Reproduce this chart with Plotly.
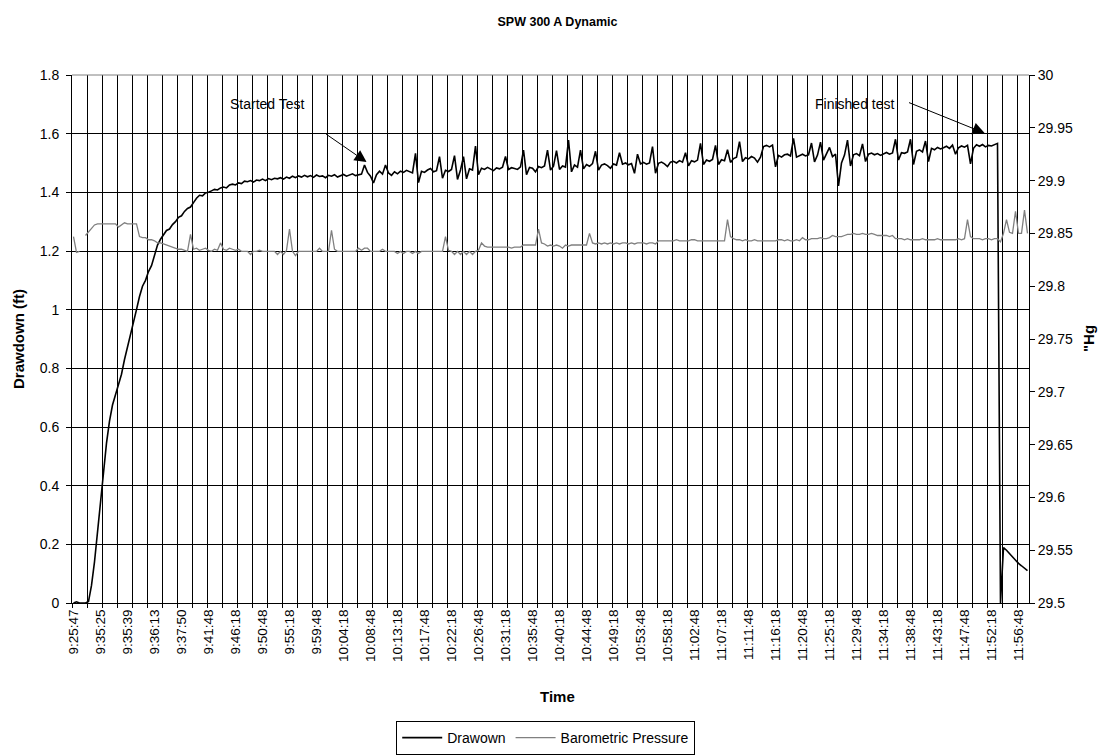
import plotly.graph_objects as go

# ---- tick labels (every 9th sample) ----
tick_labels = ["9:25:47", "9:35:25", "9:35:39", "9:36:13", "9:37:50", "9:41:48",
               "9:46:18", "9:50:48", "9:55:18", "9:59:48", "10:04:18", "10:08:48",
               "10:13:18", "10:17:48", "10:22:18", "10:26:48", "10:31:18", "10:35:48",
               "10:40:18", "10:44:48", "10:49:18", "10:53:48", "10:58:18", "11:02:48",
               "11:07:18", "11:11:48", "11:16:18", "11:20:48", "11:25:18", "11:29:48",
               "11:34:18", "11:38:48", "11:43:18", "11:47:48", "11:52:18", "11:56:48"]
label_step = 9

# ---- Drawdown (ft), one value per sample ----
drawdown = [
    0.0, 0.004, 0.0, 0.0, 0.0, 0.005, 0.06, 0.14, 0.24, 0.35,
    0.44, 0.545, 0.62, 0.675, 0.71, 0.745, 0.78, 0.83, 0.87, 0.91,
    0.955, 1.0, 1.045, 1.08, 1.10, 1.13, 1.15, 1.19, 1.22, 1.24,
    1.255, 1.27, 1.275, 1.29, 1.30, 1.315, 1.32, 1.335, 1.345, 1.35,
    1.365, 1.38, 1.39, 1.388, 1.398, 1.40, 1.405, 1.41, 1.408, 1.415,
    1.418, 1.415, 1.425, 1.428, 1.425, 1.432, 1.43, 1.438, 1.436, 1.44,
    1.435, 1.442, 1.44, 1.445, 1.44, 1.447, 1.443, 1.448, 1.446, 1.45,
    1.445, 1.452, 1.448, 1.455, 1.450, 1.456, 1.452, 1.458, 1.453, 1.457,
    1.451, 1.459, 1.454, 1.456, 1.450, 1.458, 1.455, 1.460, 1.452, 1.457,
    1.461, 1.455, 1.459, 1.463, 1.457, 1.460, 1.462, 1.493, 1.468, 1.455,
    1.432, 1.460, 1.472, 1.462, 1.493, 1.466, 1.458, 1.470, 1.463, 1.472,
    1.468, 1.475, 1.470, 1.466, 1.533, 1.433, 1.472, 1.468, 1.476, 1.481,
    1.470, 1.474, 1.522, 1.448, 1.475, 1.471, 1.478, 1.525, 1.444, 1.476,
    1.522, 1.446, 1.480, 1.476, 1.558, 1.460, 1.482, 1.478, 1.485, 1.479,
    1.474, 1.483, 1.480, 1.486, 1.522, 1.478, 1.484, 1.481, 1.478, 1.487,
    1.544, 1.460, 1.485, 1.482, 1.470, 1.488, 1.484, 1.490, 1.544, 1.476,
    1.489, 1.542, 1.478, 1.490, 1.486, 1.578, 1.470, 1.493, 1.486, 1.544,
    1.480, 1.495, 1.489, 1.498, 1.540, 1.476, 1.493, 1.497, 1.491, 1.482,
    1.497, 1.493, 1.535, 1.496, 1.500, 1.494, 1.498, 1.465, 1.530, 1.497,
    1.502, 1.496, 1.500, 1.556, 1.465, 1.499, 1.503, 1.497, 1.488, 1.503,
    1.506, 1.500, 1.508, 1.503, 1.535, 1.490, 1.508, 1.504, 1.510, 1.567,
    1.495, 1.510, 1.506, 1.512, 1.560, 1.495, 1.511, 1.508, 1.545, 1.502,
    1.515, 1.520, 1.573, 1.505, 1.518, 1.514, 1.522, 1.517, 1.503, 1.520,
    1.556, 1.560, 1.555, 1.561, 1.487, 1.526, 1.520, 1.528, 1.530, 1.524,
    1.584, 1.520, 1.526, 1.530, 1.524, 1.528, 1.568, 1.504, 1.527, 1.571,
    1.510, 1.530, 1.553, 1.522, 1.530, 1.422, 1.500, 1.527, 1.578, 1.490,
    1.528, 1.532, 1.525, 1.565, 1.505, 1.530, 1.534, 1.528, 1.532, 1.526,
    1.531, 1.536, 1.530, 1.534, 1.581, 1.510, 1.535, 1.533, 1.538, 1.581,
    1.495, 1.540, 1.545, 1.538, 1.575, 1.505, 1.550, 1.545, 1.553, 1.548,
    1.552, 1.557, 1.550, 1.561, 1.530, 1.552, 1.558, 1.554, 1.560, 1.497,
    1.550, 1.562, 1.557, 1.563, 1.555, 1.560, 1.558, 1.563, 1.567, 0.0,
    0.189, 0.18, 0.168, 0.156, 0.145, 0.135, 0.127, 0.118, 0.11,
]

# ---- Barometric pressure ("Hg), one value per sample ----
pressure = [
    29.847, 29.832, 29.833, None, 29.848, 29.851, 29.854, 29.858, 29.859, 29.859,
    29.859, 29.859, 29.859, 29.859, 29.859, 29.856, 29.858, 29.860, 29.859, 29.859,
    29.859, 29.859, 29.847, 29.846, 29.846, 29.844, 29.844, 29.843, 29.841, 29.841,
    29.840, 29.839, 29.838, 29.837, 29.836, 29.835, 29.835, 29.834, 29.833, 29.849,
    29.835, 29.836, 29.834, 29.835, 29.836, 29.834, 29.833, 29.835, 29.834, 29.841,
    29.835, 29.834, 29.836, 29.835, 29.834, 29.835, 29.833, 29.833, 29.833, 29.830,
    29.833, 29.833, 29.834, 29.833, 29.833, 29.833, 29.833, 29.833, 29.830, 29.833,
    29.830, 29.834, 29.854, 29.833, 29.829, 29.833, 29.833, 29.833, 29.833, 29.833,
    29.833, 29.833, 29.836, 29.833, 29.833, 29.833, 29.853, 29.835, 29.833, 29.833,
    29.833, 29.833, 29.833, 29.833, 29.833, 29.836, 29.834, 29.836, 29.836, 29.833,
    29.833, 29.833, 29.833, 29.835, 29.833, 29.833, 29.833, 29.833, 29.831, 29.833,
    29.831, 29.833, 29.833, 29.831, 29.833, 29.831, 29.833, 29.833, 29.833, 29.833,
    29.833, 29.833, 29.833, 29.833, 29.847, 29.834, 29.833, 29.830, 29.833, 29.830,
    29.833, 29.830, 29.833, 29.830, 29.833, 29.834, 29.841, 29.838, 29.837, 29.837,
    29.837, 29.837, 29.837, 29.837, 29.837, 29.837, 29.836, 29.837, 29.837, 29.837,
    29.839, 29.839, 29.839, 29.839, 29.839, 29.854, 29.841, 29.840, 29.838, 29.839,
    29.838, 29.839, 29.838, 29.836, 29.839, 29.838, 29.839, 29.839, 29.839, 29.839,
    29.839, 29.839, 29.850, 29.841, 29.840, 29.841, 29.840, 29.841, 29.840, 29.841,
    29.840, 29.841, 29.840, 29.841, 29.841, 29.840, 29.841, 29.840, 29.841, 29.841,
    29.841, 29.840, 29.841, 29.841, 29.840, 29.843, 29.843, 29.843, 29.843, 29.843,
    29.843, 29.844, 29.843, 29.843, 29.843, 29.843, 29.844, 29.844, 29.843, 29.843,
    29.843, 29.843, 29.843, 29.843, 29.843, 29.843, 29.843, 29.843, 29.863, 29.847,
    29.845, 29.844, 29.844, 29.843, 29.844, 29.843, 29.843, 29.844, 29.843, 29.843,
    29.843, 29.843, 29.843, 29.843, 29.843, 29.844, 29.844, 29.843, 29.844, 29.843,
    29.843, 29.844, 29.843, 29.846, 29.844, 29.844, 29.845, 29.845, 29.845, 29.846,
    29.845, 29.845, 29.846, 29.848, 29.847, 29.847, 29.847, 29.848, 29.849, 29.849,
    29.850, 29.849, 29.849, 29.850, 29.849, 29.849, 29.850, 29.849, 29.848, 29.848,
    29.848, 29.848, 29.847, 29.848, 29.845, 29.845, 29.845, 29.844, 29.845, 29.844,
    29.844, 29.844, 29.844, 29.845, 29.844, 29.844, 29.844, 29.844, 29.845, 29.844,
    29.844, 29.844, 29.844, 29.844, 29.844, 29.845, 29.844, 29.845, 29.863, 29.847,
    29.845, 29.845, 29.845, 29.844, 29.845, 29.845, 29.844, 29.845, 29.845, 29.842,
    29.850, 29.863, 29.851, 29.850, 29.871, 29.850, 29.850, 29.872, 29.850,
]

samples = list(range(len(drawdown)))
tick_positions = [i * label_step for i in range(len(tick_labels))]

FONT = "Arial, Liberation Sans, sans-serif"

fig = go.Figure()
fig.add_trace(go.Scatter(x=samples, y=drawdown, mode="lines", name="Drawown",
                         line=dict(color="#000000", width=1.6), yaxis="y"))
fig.add_trace(go.Scatter(x=samples, y=pressure, mode="lines", name="Barometric Pressure",
                         line=dict(color="#808080", width=1.3), yaxis="y2",
                         connectgaps=False))

fig.update_layout(
    width=1115, height=755,
    margin=dict(l=72, r=86, t=75, b=152, autoexpand=False),
    paper_bgcolor="white", plot_bgcolor="white",
    font=dict(family=FONT, size=13, color="black"),
    title=dict(text="<b>SPW 300 A Dynamic</b>", x=0.5, xanchor="center",
               y=0.971, yanchor="middle", font=dict(size=12.5, family=FONT)),
    xaxis=dict(range=[-0.5, len(samples) - 0.5], tickmode="array",
               tickvals=tick_positions, ticktext=tick_labels, tickangle=-90,
               ticks="", showgrid=False, zeroline=False, showline=True,
               linecolor="black", linewidth=1, tickfont=dict(size=13.5),
               automargin=False,
               minor=dict(tickmode="linear", tick0=-0.5, dtick=5, showgrid=True,
                          gridcolor="black", gridwidth=1, ticks="outside",
                          ticklen=4, tickcolor="black")),
    yaxis=dict(range=[0, 1.8], tick0=0, dtick=0.2, showgrid=True, gridcolor="black",
               gridwidth=1, zeroline=False, showline=True, linecolor="black",
               ticks="outside", ticklen=5, tickcolor="black", tickfont=dict(size=14),
               ticklabelstandoff=4, automargin=False),
    yaxis2=dict(range=[29.5, 30], tick0=29.5, dtick=0.05, overlaying="y", side="right",
                showgrid=False, zeroline=False, showline=True, linecolor="black",
                ticks="outside", ticklen=5, tickcolor="black", tickfont=dict(size=14),
                automargin=False),
    showlegend=True,
    legend=dict(orientation="h", x=0.495, xanchor="center", y=-0.2235, yanchor="top",
                bordercolor="black", borderwidth=1, font=dict(size=14, family=FONT),
                itemwidth=40, bgcolor="white", tracegroupgap=0),
)

fig.add_shape(type="line", xref="paper", yref="paper", x0=0, x1=1, y0=1, y1=1,
              line=dict(color="#808080", width=1), layer="above")

# axis titles
fig.add_annotation(text="<b>Time</b>", xref="paper", yref="paper", x=0.507, y=-0.178,
                   xanchor="center", yanchor="middle", showarrow=False,
                   font=dict(size=15))
fig.add_annotation(text="<b>Drawdown (ft)</b>", xref="paper", yref="paper", x=-0.0564,
                   y=0.5, xanchor="center", yanchor="middle", textangle=-90,
                   showarrow=False, font=dict(size=15))
fig.add_annotation(text="<b>\"Hg</b>", xref="paper", yref="paper", x=1.0617, y=0.5,
                   xanchor="center", yanchor="middle", textangle=-90,
                   showarrow=False, font=dict(size=15))

# callouts
fig.add_annotation(text="Started Test", x=64.7, y=1.701, xref="x", yref="y",
                   showarrow=False, font=dict(size=14))
fig.add_annotation(text="", x=97.7, y=1.503, ax=83.7, ay=1.602, xref="x", yref="y",
                   axref="x", ayref="y", showarrow=True, arrowhead=2, arrowsize=2.4,
                   arrowwidth=1, arrowcolor="black")
fig.add_annotation(text="Finished test", x=260.4, y=1.701, xref="x", yref="y",
                   showarrow=False, font=dict(size=14))
fig.add_annotation(text="", x=303.7, y=1.602, ax=278, ay=1.708, xref="x", yref="y",
                   axref="x", ayref="y", showarrow=True, arrowhead=2, arrowsize=2.4,
                   arrowwidth=1, arrowcolor="black")

# remove the page's default 8px body margin so the figure sits at the window origin
fig.write_html("out.html", config={"displayModeBar": False},
               post_script="document.body.style.margin='0';")
